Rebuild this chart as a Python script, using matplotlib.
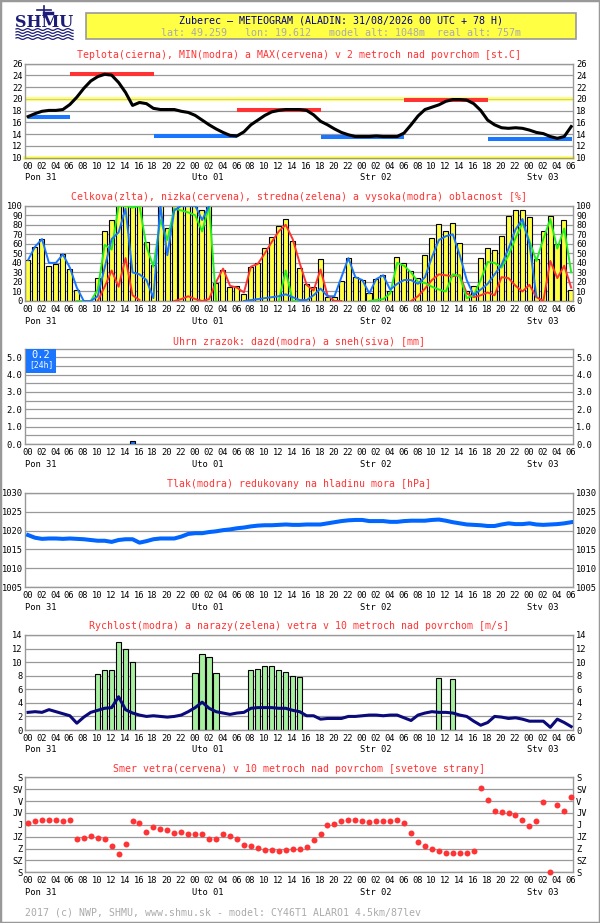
import numpy as np
import matplotlib
matplotlib.use("Agg")
import matplotlib.pyplot as plt
from matplotlib.patches import Rectangle
from matplotlib.transforms import ScaledTranslation

nan = np.nan
hours = np.arange(79)
days = [0, 24, 48, 72]
day_names = ["Pon 31", "Uto 01", "Str 02", "Stv 03"]

# teplota [st.C]
temp = [17.0, 17.5, 17.9, 18.05, 18.05, 18.2, 19.05, 20.3, 21.8, 23.05,
        23.8, 24.2, 24.05, 22.8, 21.1, 18.9, 19.4, 19.2, 18.4, 18.2,
        18.2, 18.2, 17.9, 17.7, 17.2, 16.4, 15.6, 14.9, 14.3, 13.8,
        13.7, 14.4, 15.6, 16.4, 17.2, 17.8, 18.05, 18.2, 18.2, 18.2,
        18.05, 17.3, 16.2, 15.6, 14.9, 14.3, 13.9, 13.6, 13.6, 13.6,
        13.7, 13.6, 13.6, 13.6, 14.2, 15.6, 17.1, 18.2, 18.6, 19.0,
        19.6, 19.9, 19.9, 19.8, 19.2, 18.05, 16.4, 15.6, 15.1, 15.0,
        15.1, 15.0, 14.7, 14.3, 14.1, 13.6, 13.3, 13.6, 15.3]
tmin_from = [0, 18, 42, 66]
tmin_to = [6, 30, 54, 78]
tmin_val = [17.0, 13.65, 13.55, 13.2]
tmax_from = [6, 30, 54]
tmax_to = [18, 42, 66]
tmax_val = [24.2, 18.15, 19.9]

# oblacnost [%]
cloud_total = [43, 57, 65, 37, 39, 49, 34, 12, 0, 0,
               24, 73, 85, 100, 100, 100, 100, 62, 38, 100,
               77, 100, 100, 100, 100, 95, 100, 19, 33, 15,
               16, 7, 36, 40, 56, 67, 79, 86, 63, 35,
               18, 15, 44, 4, 4, 21, 45, 25, 22, 8,
               23, 27, 10, 46, 40, 31, 24, 48, 66, 81,
               73, 82, 61, 10, 16, 45, 56, 53, 68, 89,
               95, 96, 88, 44, 73, 89, 60, 85, 12]
cloud_low = [nan, nan, nan, nan, nan, nan, nan, nan, nan, nan,
             0, 15, 32, 15, 45, 6, 1, nan, nan, nan,
             nan, 0, 2, 5, 2, 0, 2, 20, 34, 16,
             14, 9, 36, 39, 50, 62, 73, 80, 65, 40,
             17, 11, 33, 6, 0, 0, nan, nan, nan, nan,
             nan, nan, nan, nan, nan, 0, 5, 13, 22, 28,
             27, 26, 27, 8, 4, 6, 9, 6, 25, 24,
             16, 10, 17, 4, 0, 42, 24, 37, 14]
cloud_mid = [nan, nan, nan, nan, nan, nan, nan, 0, 0, 0,
             12, 59, 54, 100, 100, 98, 100, 57, 36, 85,
             64, 97, 95, 93, 90, 73, 100, 0, nan, nan,
             nan, nan, nan, nan, nan, nan, 0, 32, 0, 0,
             nan, nan, nan, nan, nan, nan, nan, nan, nan, 0,
             1, 2, 8, 40, 37, 30, 20, 19, 15, 12,
             10, 28, 26, 3, 6, 22, 41, 40, 35, 48,
             66, 82, 63, 42, 65, 86, 55, 76, 30]
cloud_high = [43, 57, 65, 40, 40, 49, 35, 14, 0, 0,
              5, 35, 65, 72, 97, 30, 28, 22, 3, 100,
              48, 95, 100, 100, 100, 85, 100, nan, nan, nan,
              nan, 0, 1, 2, 3, 4, 5, 7, 4, 1,
              1, 6, 13, 5, 5, 25, 45, 25, 22, 8,
              23, 27, 12, 18, 22, 22, 18, 25, 46, 64,
              68, 70, 48, 22, 6, 12, 18, 28, 38, 55,
              75, 86, 60, 5, nan, nan, nan, nan, nan]

# zrazky [mm]
rain_hours = [15]
rain_mm = [0.15]
rain_24h = "0.2"

# tlak [hPa]
pressure = [1018.8, 1018.1, 1017.8, 1017.9, 1017.9, 1017.8, 1017.9, 1017.8, 1017.7, 1017.5,
            1017.3, 1017.3, 1017.0, 1017.5, 1017.7, 1017.7, 1016.8, 1017.2, 1017.7, 1017.9,
            1017.9, 1017.9, 1018.4, 1019.1, 1019.3, 1019.3, 1019.6, 1019.8, 1020.1, 1020.3,
            1020.6, 1020.8, 1021.1, 1021.3, 1021.4, 1021.4, 1021.5, 1021.6, 1021.5, 1021.5,
            1021.6, 1021.6, 1021.6, 1021.9, 1022.2, 1022.5, 1022.7, 1022.8, 1022.8, 1022.5,
            1022.5, 1022.5, 1022.3, 1022.3, 1022.5, 1022.6, 1022.6, 1022.6, 1022.8, 1022.9,
            1022.6, 1022.2, 1021.9, 1021.6, 1021.5, 1021.4, 1021.2, 1021.2, 1021.6, 1021.9,
            1021.7, 1021.7, 1021.9, 1021.6, 1021.5, 1021.6, 1021.7, 1021.9, 1022.2]

# vietor [m/s]
wind = [2.6, 2.7, 2.6, 3.0, 2.7, 2.4, 2.1, 1.0, 1.9, 2.6,
        2.9, 3.2, 3.3, 4.9, 3.0, 2.5, 2.2, 2.0, 2.1, 2.0,
        1.9, 2.0, 2.2, 2.7, 3.3, 4.1, 3.2, 2.7, 2.5, 2.3,
        2.5, 2.6, 3.2, 3.3, 3.3, 3.3, 3.2, 3.2, 2.9, 2.7,
        2.1, 2.1, 1.6, 1.7, 1.7, 1.7, 2.0, 2.0, 2.1, 2.2,
        2.2, 2.1, 2.2, 2.2, 1.8, 1.4, 2.2, 2.5, 2.7, 2.6,
        2.6, 2.5, 2.2, 2.0, 1.3, 0.7, 1.1, 2.0, 1.9, 1.7,
        1.8, 1.6, 1.3, 1.3, 1.3, 0.4, 1.6, 1.1, 0.5]
gust_hours = [10, 11, 12, 13, 14, 15, 24, 25, 26, 27,
              32, 33, 34, 35, 36, 37, 38, 39, 59, 61]
gust_vals = [8.2, 8.8, 8.8, 12.9, 12.0, 10.0, 8.35, 11.15, 10.7, 8.35,
             8.8, 8.95, 9.4, 9.5, 8.8, 8.5, 7.9, 7.75, 7.6, 7.45]

# smer vetra [stupne]
wind_dir = [172, 167, 163, 163, 163, 167, 163, 235, 231, 222,
            231, 235, 262, 292, 254, 167, 174, 209, 190, 197,
            201, 211, 207, 215, 215, 215, 235, 235, 215, 222,
            235, 258, 262, 269, 276, 276, 281, 276, 273, 273,
            265, 239, 215, 182, 178, 167, 162, 162, 167, 171,
            167, 167, 167, 163, 174, 212, 247, 262, 273, 281,
            288, 288, 288, 288, 281, 42, 87, 129, 133, 137,
            144, 163, 186, 167, 95, 360, 105, 129, 76]
dir_labels = ["S", "SV", "V", "JV", "J", "JZ", "Z", "SZ", "S"]

W, H = 600, 923
LEFT, RIGHT = 25.3, 573.3
XMAX = (RIGHT - LEFT) / 6.963
GRAY = "#999999"
RED = "#ff3333"
BLUE = "#1a75ff"
MONO = "DejaVu Sans Mono"

plt.rcParams["font.family"] = MONO
plt.rcParams["font.size"] = 6.3

fig = plt.figure(figsize=(W / 100, H / 100), dpi=100)
fig.patch.set_facecolor("white")


def fx(px):
    return px / W


def fy(py):
    return 1 - py / H


def panel(top, bottom, title):
    ax = fig.add_axes([fx(LEFT), fy(bottom), fx(RIGHT - LEFT), (bottom - top) / H])
    ax.set_xlim(0, XMAX)
    ax.set_xticks(np.arange(0, 79, 2))
    ax.set_xticklabels(["%02d" % (h % 24) for h in range(0, 79, 2)])
    ax.set_xticks(days[1:], minor=True)
    ax.tick_params(axis="x", which="both", length=0, pad=3)
    ax.tick_params(axis="y", which="both", length=0, pad=2,
                   labelleft=True, labelright=True)
    shift = ScaledTranslation(2 / 100, 0, fig.dpi_scale_trans)
    for lab in ax.get_xticklabels():
        lab.set_transform(lab.get_transform() + shift)
    ax.grid(True, axis="y", which="both", color=GRAY, lw=0.9)
    ax.grid(True, axis="x", which="minor", color=GRAY, lw=0.9)
    ax.grid(False, axis="x", which="major")
    ax.set_axisbelow(True)
    for s in ax.spines.values():
        s.set_color(GRAY)
        s.set_linewidth(1.0)
    for d, name in zip(days, day_names):
        ax.annotate(name, xy=(d, 0), xycoords=("data", "axes fraction"),
                    xytext=(0, -20), textcoords="offset pixels",
                    ha="left", va="center", fontsize=6.3)
    fig.text(fx(299.3), fy(top - 8.7), title, color=RED, ha="center",
             va="center", fontsize=7.1)
    return ax


# hlavicka
fig.add_artist(Rectangle((0, 0), 1, 1, transform=fig.transFigure, fill=False,
                         edgecolor=GRAY, lw=2.5))
fig.add_artist(Rectangle((fx(86), fy(39.3)), fx(576 - 86), (39.3 - 13.3) / H,
                         transform=fig.transFigure, facecolor="#ffff44",
                         edgecolor=GRAY, lw=1.2))
fig.text(fx(341), fy(20.3), "Zuberec \u2013 METEOGRAM (ALADIN: 31/08/2026 00 UTC + 78 H)",
         color="#000080", ha="center", va="center", fontsize=7.2)
fig.text(fx(341), fy(32.8),
         "lat: 49.259   lon: 19.612   model_alt: 1048m  real_alt: 757m",
         color="#aaaaaa", ha="center", va="center", fontsize=7.2)

# logo SHMU
NAVY = "#1c1c78"
fig.text(fx(44.5), fy(22.5), "SHMU", color=NAVY, ha="center", va="center",
         fontsize=11.5, fontweight="bold", family="DejaVu Serif")
wx = np.linspace(16, 73, 60)
for wy in [29.5, 32.5, 35.5, 38.5]:
    fig.add_artist(plt.Line2D(fx(wx), fy(wy + 0.9 * np.sin(wx / 1.6)),
                              transform=fig.transFigure, color=NAVY, lw=0.9))
fig.add_artist(plt.Line2D([fx(44), fx(44)], [fy(17), fy(6)],
                          transform=fig.transFigure, color=NAVY, lw=1.2))
fig.add_artist(plt.Line2D([fx(37), fx(51)], [fy(10), fy(10)],
                          transform=fig.transFigure, color=NAVY, lw=1.2))
fig.add_artist(plt.Line2D([fx(44), fx(52)], [fy(13), fy(13)],
                          transform=fig.transFigure, color=NAVY, lw=2.5))

lx = hours + 0.4

# 1) teplota
ax = panel(63.7, 157.7,
           "Teplota(cierna), MIN(modra) a MAX(cervena) v 2 metroch nad povrchom [st.C]")
ax.set_ylim(10, 26)
ax.set_yticks(np.arange(10, 27, 2))
ax.axhline(20, color="#ffff55", lw=2.6, zorder=1.5)
ax.axhline(20, color="#bbbb99", lw=0.5, zorder=1.6)
ax.axhline(10, color="#ffff55", lw=2.6, zorder=1.5, clip_on=False)
ax.hlines(tmin_val, np.array(tmin_from) + 0.45, np.array(tmin_to) + 0.45,
          color=BLUE, lw=2.9, zorder=2)
ax.hlines(tmax_val, np.array(tmax_from) + 0.45, np.array(tmax_to) + 0.45,
          color=RED, lw=2.9, zorder=2)
ax.plot(lx, temp, color="black", lw=2.2, zorder=3)

# 2) oblacnost
ax = panel(205.7, 301,
           "Celkova(zlta), nizka(cervena), stredna(zelena) a vysoka(modra) oblacnost [%]")
ax.set_ylim(0, 100)
ax.set_yticks(np.arange(0, 101, 10))
ax.bar(hours, cloud_total, width=0.72, align="edge", color="#ffff44",
       edgecolor="black", lw=0.8, zorder=2)
ax.plot(lx, cloud_low, color=RED, lw=1.4, zorder=3)
ax.plot(lx, cloud_mid, color="#22ee22", lw=1.4, zorder=3)
ax.plot(lx, cloud_high, color=BLUE, lw=1.4, zorder=4)

# 3) zrazky
ax = panel(349.3, 444, "Uhrn zrazok: dazd(modra) a sneh(siva) [mm]")
ax.set_ylim(0, 5.46)
ax.set_yticks(np.arange(0, 5.1, 1.0))
ax.set_yticklabels(["%.1f" % v for v in np.arange(0, 5.1, 1.0)])
ax.set_yticks(np.arange(0.5, 5.5, 1.0), minor=True)
ax.bar(rain_hours, rain_mm, width=0.75, align="edge", color=BLUE,
       edgecolor="black", lw=0.8, zorder=3)
fig.add_artist(Rectangle((fx(26), fy(373.3)), fx(55.5 - 26), (373.3 - 349.5) / H,
                         transform=fig.transFigure, facecolor=BLUE,
                         edgecolor="none", zorder=5))
fig.text(fx(41), fy(355.5), rain_24h, color="white", ha="center", va="center",
         fontsize=7.5, zorder=6)
fig.text(fx(41), fy(364.8), "[24h]", color="white", ha="center", va="center",
         fontsize=5.8, zorder=6)

# 4) tlak
ax = panel(492.7, 587.3, "Tlak(modra) redukovany na hladinu mora [hPa]")
ax.set_ylim(1005, 1030)
ax.set_yticks(np.arange(1005, 1031, 5))
ax.plot(lx, pressure, color="#0066ff", lw=2.9, zorder=3)

# 5) vietor
ax = panel(635, 730, "Rychlost(modra) a narazy(zelena) vetra v 10 metroch nad povrchom [m/s]")
ax.set_ylim(0, 14)
ax.set_yticks(np.arange(0, 15, 2))
ax.bar(gust_hours, gust_vals, width=0.75, align="edge", color="#a6f0a0",
       edgecolor="black", lw=0.8, zorder=2)
ax.plot(lx, wind, color="#0a0a7a", lw=2.2, zorder=3)

# 6) smer vetra
ax = panel(777.3, 872.3, "Smer vetra(cervena) v 10 metroch nad povrchom [svetove strany]")
ax.set_ylim(360, 0)
ax.set_yticks(np.arange(0, 361, 45))
ax.set_yticklabels(dir_labels)
ax.plot(lx, wind_dir, "o", color=RED, ms=4.3, mec="none", zorder=3, clip_on=False)

fig.text(fx(25), fy(912.7),
         "2017 (c) NWP, SHMU, www.shmu.sk - model: CY46T1 ALARO1 4.5km/87lev",
         color="#aaaaaa", ha="left", va="center", fontsize=7.1)

fig.savefig("out.png", dpi=100)
